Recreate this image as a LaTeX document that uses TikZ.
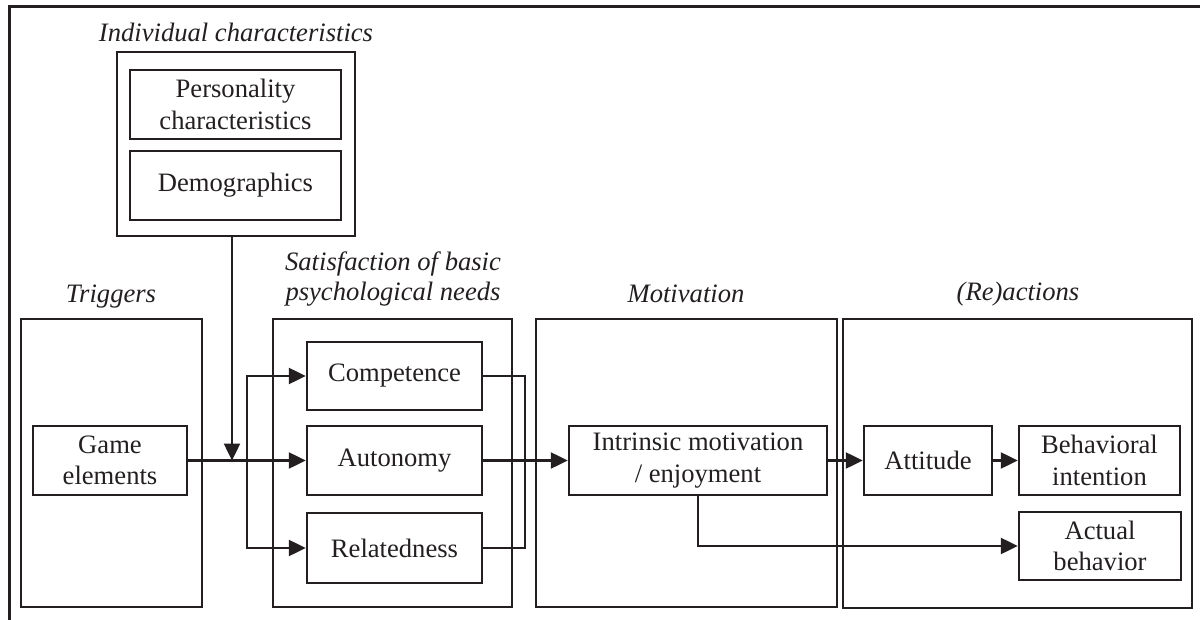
\documentclass[tikz,border=0pt]{standalone}
\usepackage{fontspec}
\setmainfont{Liberation Serif}
\usetikzlibrary{arrows.meta,calc}
\definecolor{ink}{HTML}{231F20}
\begin{document}
\begin{tikzpicture}[x=1pt,y=-1pt,
  every node/.style={font=\fontsize{26.6}{31.5}\selectfont, text=ink},
  box/.style={draw=ink, line width=2.5pt, rectangle, inner sep=0pt, align=center},
  heading/.style={font=\fontsize{26.6}{31.5}\selectfont\itshape, anchor=base, inner sep=0pt},
  link/.style={draw=ink, line width=2.5pt},
  arr/.style={link, -{Triangle[length=17pt,width=16pt]}}]
\useasboundingbox (0,0) rectangle (1200,620);

% open frame along the top and left edges
\draw[ink, line width=3pt] (9,620) -- (9,7) -- (1200,7);

% group boxes
\node[box, minimum width=238, minimum height=184] (indiv) at (236,144) {};
\node[box, minimum width=181, minimum height=288] (trig)  at (111.5,463) {};
\node[box, minimum width=239, minimum height=288] (sat)   at (392.5,463) {};
\node[box, minimum width=301, minimum height=288] (mot)   at (686.5,463) {};
\node[box, minimum width=349, minimum height=289] (react) at (1017.5,463.5) {};

% group headings
\node[heading] at (236,42) {Individual characteristics};
\node[heading] at (111,303) {Triggers};
\node[heading] at (393,271) {Satisfaction of basic};
\node[heading] at (393,301) {psychological needs};
\node[heading] at (686,303) {Motivation};
\node[heading] at (1018,301) {(Re)actions};

% inner boxes
\node[box, minimum width=211, minimum height=69] (pers) at (235.5,104.5) {Personality\\characteristics};
\node[box, minimum width=211, minimum height=69] (demo) at (235.5,185.5) {Demographics};
\node[box, minimum width=154, minimum height=69] (game) at (110,460.5) {Game\\elements};
\node[box, minimum width=175, minimum height=68] (comp) at (394.5,376) {Competence};
\node[box, minimum width=175, minimum height=69] (auto) at (394.5,460.5) {Autonomy};
\node[box, minimum width=175, minimum height=70] (rel)  at (394.5,548) {Relatedness};
\node[box, minimum width=258, minimum height=69] (intr) at (698,460.5) {Intrinsic motivation\\/ enjoyment};
\node[box, minimum width=128, minimum height=69] (att)  at (928,460.5) {Attitude};
\node[box, minimum width=161, minimum height=69] (bi)   at (1099.5,460.5) {Behavioral\\intention};
\node[box, minimum width=162, minimum height=68] (ab)   at (1100,546) {Actual\\behavior};

% connectors
\coordinate (v) at ($(indiv.south)+(-4,0)$);
\coordinate (split) at (247,460.5);
\coordinate (join) at (525,460.5);
\draw[arr] (v) -- (v |- game.east);
\draw[arr] (game.east) -- (auto.west);
\draw[arr] (split) |- (comp.west);
\draw[arr] (split) |- (rel.west);
\draw[link] (comp.east) -| (join) |- (rel.east);
\draw[arr] (auto.east) -- (intr.west);
\draw[arr] (intr.east) -- (att.west);
\draw[arr] (att.east) -- (bi.west);
\draw[arr] (intr.south) |- (ab.west);
\end{tikzpicture}
\end{document}
